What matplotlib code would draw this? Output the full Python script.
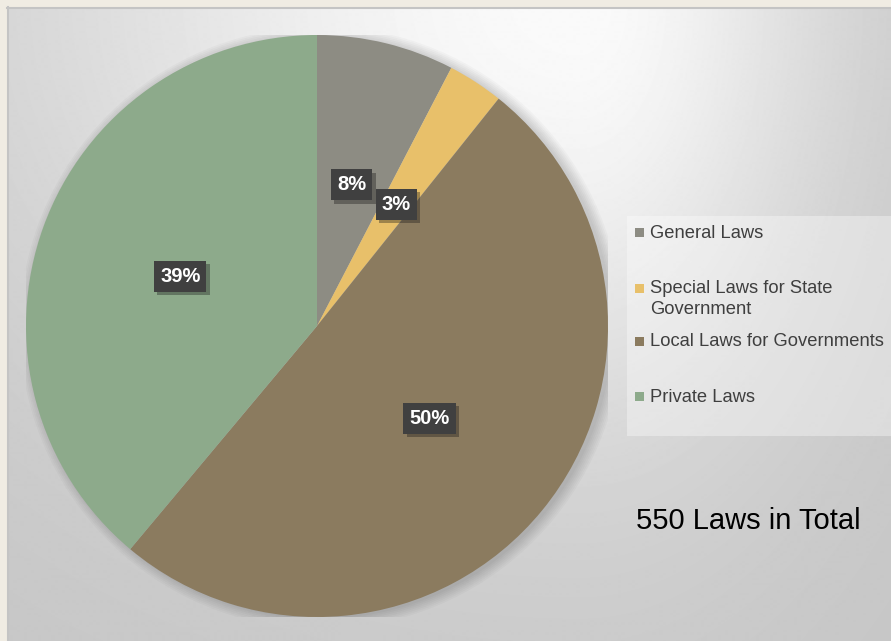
import numpy as np
import matplotlib

matplotlib.use("Agg")
import matplotlib.pyplot as plt
import matplotlib.patheffects as pe
from matplotlib.patches import Rectangle, Circle

plt.rcParams["font.family"] = ["Liberation Sans", "DejaVu Sans"]

# data
categories = [
    "General Laws",
    "Special Laws for State\nGovernment",
    "Local Laws for Governments",
    "Private Laws",
]
law_counts = [42, 17, 277, 214]
colors = ["#8d8c83", "#e8c06a", "#8b7b5f", "#8daa8b"]
total_label = "550 Laws in Total"

W, H = 891, 641
fig = plt.figure(figsize=(W / 100, H / 100), dpi=100)
fig.patch.set_facecolor("#f0ece3")

# background panel with soft gradient
bg = fig.add_axes([0, 0, 1, 1])
bg.set_xlim(0, W)
bg.set_ylim(H, 0)
bg.axis("off")
xx, yy = np.meshgrid(np.arange(7, W + 1), np.arange(7, H + 1))
dx = (xx - 580) / np.where(xx < 580, 540.0, 250.0)
dy = yy / 430.0
val = 0.775 + 0.205 * np.exp(-(dx ** 2 + dy ** 2))
bg.imshow(val, cmap="gray", vmin=0, vmax=1, extent=(7, W, H, 7), aspect="auto",
          interpolation="bilinear", zorder=0)
bg.plot([7, W], [7.5, 7.5], color="#c4c4c4", lw=1.5, zorder=1)
bg.plot([7.5, 7.5], [7, H], color="#c4c4c4", lw=1.5, zorder=1)

# legend panel
bg.add_patch(Rectangle((627, 216), W - 627, 220, facecolor="white", alpha=0.35,
                       edgecolor="none", zorder=2))
legend_y = [232, 288, 341, 396]
for label, col, y in zip(categories, colors, legend_y):
    bg.add_patch(Rectangle((635, y - 4), 9, 9, facecolor=col, edgecolor="none", zorder=3))
    if "\n" in label:
        bg.text(650, y - 8, label, fontsize=13.2, color="#3f3f3f", va="top", ha="left",
                linespacing=1.3, zorder=3)
    else:
        bg.text(650, y + 1, label, fontsize=13.2, color="#3f3f3f", va="center", ha="left",
                zorder=3)

bg.text(636, 521, total_label, fontsize=21, color="black", va="center", ha="left")

# pie
cx, cy, r = 317, 326, 291
ax = fig.add_axes([(cx - r) / W, (H - cy - r) / H, 2 * r / W, 2 * r / H])
ax.set_xlim(-1, 1)
ax.set_ylim(-1, 1)
ax.axis("off")
ax.patch.set_alpha(0)

# soft shadow under the pie
for a in np.linspace(0.035, 0.0, 7):
    ax.add_patch(Circle((0.014, -0.006), 1.0 + a, facecolor="black",
                        alpha=0.025, edgecolor="none", zorder=0))

wedges, texts, autotexts = ax.pie(
    law_counts,
    colors=colors,
    startangle=90,
    counterclock=False,
    radius=1.0,
    autopct=lambda p: f"{p:.0f}%",
    pctdistance=0.5,
    wedgeprops=dict(linewidth=0),
    textprops=dict(color="white", fontsize=14.5, fontweight="semibold"),
)
for t in autotexts:
    t.set_bbox(dict(boxstyle="square,pad=0.3", facecolor="#404040", edgecolor="none"))
    t.get_bbox_patch().set_path_effects(
        [pe.SimplePatchShadow(offset=(2.5, -2.5), alpha=0.35), pe.Normal()]
    )
ax.set_xlim(-1, 1)
ax.set_ylim(-1, 1)

fig.savefig("out.png", dpi=100, facecolor=fig.get_facecolor())
